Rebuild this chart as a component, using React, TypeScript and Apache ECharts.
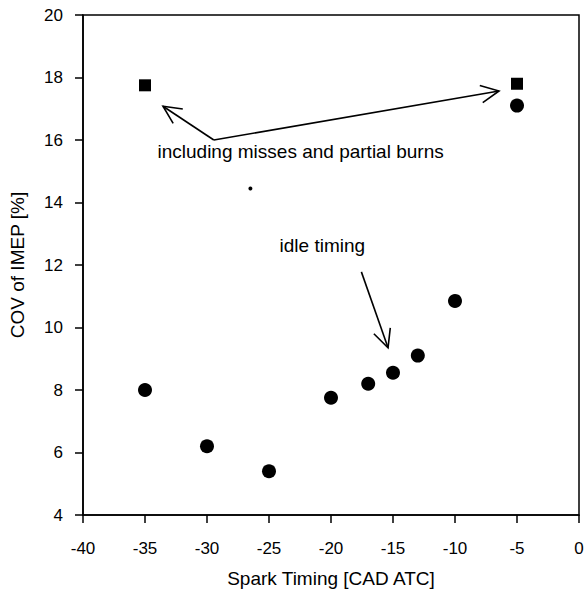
import React, { useEffect, useRef } from "react";
import * as echarts from "echarts";

// Data
const sparkTiming = [-35, -30, -25, -20, -17, -15, -13, -10, -5];
const covImep = [8.0, 6.2, 5.4, 7.75, 8.2, 8.55, 9.1, 10.85, 17.1];
const missTiming = [-35, -5];
const missCov = [17.75, 17.8];
const strayTiming = [-26.5];
const strayCov = [14.45];

// Annotation arrows: [fromX, fromY] -> [toX, toY] in data units
const arrowFrom = [
  [-29.45, 16.0],
  [-29.45, 16.0],
  [-17.55, 11.78],
];
const arrowTo = [
  [-33.55, 17.08],
  [-6.45, 17.57],
  [-15.4, 9.35],
];
const noteTexts = ["including misses and partial burns", "idle timing"];
const notePos = [
  [-22.45, 15.62],
  [-20.7, 12.64],
];

const xTitle = "Spark Timing [CAD ATC]";
const yTitle = "COV of IMEP [%]";
const FONT = "'Liberation Sans', Arial, Helvetica, sans-serif";
const INK = "#000";

export default function App() {
  const ref = useRef<HTMLDivElement>(null);
  useEffect(() => {
    if (!ref.current) return;
    const chart = echarts.init(ref.current, null, { renderer: "svg" });
    const arrowData = arrowFrom.map((f, i) => [f[0], f[1], arrowTo[i][0], arrowTo[i][1]]);
    const noteData = notePos.map((p, i) => [p[0], p[1], i]);
    chart.setOption({
      animation: false,
      backgroundColor: "#ffffff",
      grid: {
        left: 82,
        right: 8,
        top: 15,
        bottom: 79,
        show: true,
        borderColor: INK,
        borderWidth: 1.5,
        backgroundColor: "transparent",
      },
      xAxis: {
        type: "value",
        min: -40,
        max: 0,
        interval: 5,
        name: xTitle,
        nameLocation: "middle",
        nameGap: 54,
        nameTextStyle: { fontFamily: FONT, fontSize: 19, color: INK },
        axisLine: { show: true, onZero: false, lineStyle: { color: INK, width: 1.6 } },
        axisTick: { show: true, inside: false, length: 8, lineStyle: { color: INK, width: 1.5 } },
        axisLabel: { fontFamily: FONT, fontSize: 17, color: INK, margin: 25 },
        splitLine: { show: false },
      },
      yAxis: {
        type: "value",
        min: 4,
        max: 20,
        interval: 2,
        name: yTitle,
        nameLocation: "middle",
        nameGap: 56,
        nameRotate: 90,
        nameTextStyle: { fontFamily: FONT, fontSize: 19, color: INK },
        axisLine: { show: true, onZero: false, lineStyle: { color: INK, width: 1.6 } },
        axisTick: { show: true, inside: false, length: 8, lineStyle: { color: INK, width: 1.5 } },
        axisLabel: { fontFamily: FONT, fontSize: 17, color: INK, margin: 20 },
        splitLine: { show: false },
      },
      series: [
        {
          type: "scatter",
          data: sparkTiming.map((x, i) => [x, covImep[i]]),
          symbol: "circle",
          symbolSize: 14,
          itemStyle: { color: INK, opacity: 1 },
        },
        {
          type: "scatter",
          data: missTiming.map((x, i) => [x, missCov[i]]),
          symbol: "rect",
          symbolSize: 12,
          itemStyle: { color: INK, opacity: 1 },
        },
        {
          type: "scatter",
          data: strayTiming.map((x, i) => [x, strayCov[i]]),
          symbol: "circle",
          symbolSize: 4,
          itemStyle: { color: INK, opacity: 1 },
        },
        {
          type: "custom",
          data: arrowData,
          silent: true,
          renderItem: (params: any, api: any) => {
            const p0 = api.coord([api.value(0), api.value(1)]);
            const p1 = api.coord([api.value(2), api.value(3)]);
            const ang = Math.atan2(p1[1] - p0[1], p1[0] - p0[0]);
            const L = 20;
            const spread = 0.45;
            const a1 = [p1[0] - L * Math.cos(ang - spread), p1[1] - L * Math.sin(ang - spread)];
            const a2 = [p1[0] - L * Math.cos(ang + spread), p1[1] - L * Math.sin(ang + spread)];
            return {
              type: "group",
              children: [
                {
                  type: "line",
                  shape: { x1: p0[0], y1: p0[1], x2: p1[0], y2: p1[1] },
                  style: { stroke: INK, lineWidth: 1.6 },
                },
                {
                  type: "polyline",
                  shape: { points: [a1, p1, a2] },
                  style: { stroke: INK, lineWidth: 1.6, fill: null },
                },
              ],
            };
          },
        },
        {
          type: "custom",
          data: noteData,
          silent: true,
          renderItem: (params: any, api: any) => {
            const p = api.coord([api.value(0), api.value(1)]);
            return {
              type: "text",
              x: p[0],
              y: p[1],
              style: {
                text: noteTexts[api.value(2)],
                fontFamily: FONT,
                fontSize: 19,
                fill: INK,
                align: "center",
                verticalAlign: "middle",
              },
            };
          },
        },
      ],
    });
    return () => chart.dispose();
  }, []);
  return (
    <div
      ref={ref}
      style={{ position: "fixed", left: 0, top: 0, width: 587, height: 594 }}
    />
  );
}
